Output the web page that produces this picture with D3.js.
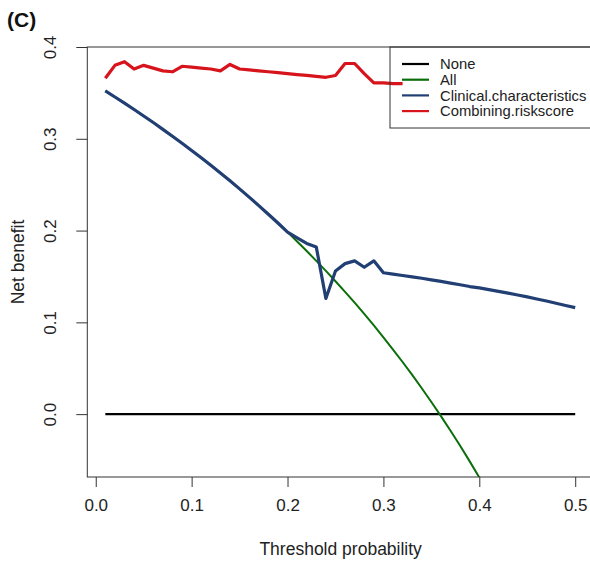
<!doctype html>
<html lang="en">
<head>
<meta charset="utf-8" />
<title>Decision curve</title>
<style>
  body { margin: 0; background: #fff; }
  svg { display: block; font-family: "Liberation Sans", Arial, sans-serif; }
</style>
</head>
<body>
<svg id="chart" width="590" height="564"></svg>
<script src="https://cdn.jsdelivr.net/npm/d3@7"></script>
<script>
// thresholds 0.01 .. 0.50
var thresholds = [0.01,0.02,0.03,0.04,0.05,0.06,0.07,0.08,0.09,0.10,
                  0.11,0.12,0.13,0.14,0.15,0.16,0.17,0.18,0.19,0.20,
                  0.21,0.22,0.23,0.24,0.25,0.26,0.27,0.28,0.29,0.30,
                  0.31,0.32,0.33,0.34,0.35,0.36,0.37,0.38,0.39,0.40,
                  0.41,0.42,0.43,0.44,0.45,0.46,0.47,0.48,0.49,0.50];

// net benefit
var noneNB = [0,0,0,0,0,0,0,0,0,0, 0,0,0,0,0,0,0,0,0,0,
              0,0,0,0,0,0,0,0,0,0, 0,0,0,0,0,0,0,0,0,0,
              0,0,0,0,0,0,0,0,0,0];

var allNB = [0.3521,0.3455,0.3388,0.3319,0.3248,0.3177,0.3103,0.3028,0.2952,0.2873,
             0.2793,0.2711,0.2628,0.2542,0.2454,0.2364,0.2272,0.2178,0.2082,0.1983,
             0.1881,0.1777,0.1670,0.1561,0.1448,0.1332,0.1214,0.1092,0.0966,0.0837,
             0.0704,0.0568,0.0427,0.0282,0.0132,-0.0022,-0.0181,-0.0345,-0.0515,-0.0690];

var clinicalNB = [0.3521,0.3455,0.3388,0.3319,0.3248,0.3177,0.3103,0.3028,0.2952,0.2873,
                  0.2793,0.2711,0.2628,0.2542,0.2454,0.2364,0.2272,0.2178,0.2082,0.1983,
                  0.192,0.186,0.182,0.126,0.156,0.164,0.167,0.160,0.167,0.154,
                  0.1525,0.151,0.1495,0.148,0.1463,0.1446,0.1428,0.141,0.139,0.1375,
                  0.1357,0.1338,0.1318,0.1298,0.1277,0.1255,0.1232,0.1208,0.1184,0.116];

var riskscoreNB = [0.366,0.380,0.384,0.376,0.380,0.377,0.374,0.373,0.379,0.378,
                   0.377,0.376,0.374,0.381,0.376,0.375,0.374,0.373,0.372,0.371,
                   0.370,0.369,0.368,0.367,0.369,0.382,0.382,0.371,0.361,0.361,
                   0.360,0.360];

var seriesNames = ["None", "All", "Clinical.characteristics", "Combining.riskscore"];
var seriesColors = ["#000000", "#0b6e0b", "#223f74", "#d7141c"];
var seriesWidths = [2.4, 2, 3.2, 3.2];
var xTicks = [0, 0.1, 0.2, 0.3, 0.4, 0.5];
var yTicks = [0, 0.1, 0.2, 0.3, 0.4];

var svg = d3.select("#chart");
var box = { left: 87.3, top: 47, right: 594, bottom: 477 };

var x = d3.scaleLinear().domain([-0.0088, 0.5196]).range([box.left, box.right]);
var y = d3.scaleLinear().domain([-0.0685, 0.4]).range([box.bottom, box.top]);

svg.append("defs").append("clipPath").attr("id", "plotclip")
  .append("rect")
  .attr("x", box.left).attr("y", box.top)
  .attr("width", box.right - box.left).attr("height", box.bottom - box.top);

// series lines
var lists = [noneNB, allNB, clinicalNB, riskscoreNB];
var line = d3.line().x(function (d) { return x(d[0]); }).y(function (d) { return y(d[1]); });
var plot = svg.append("g").attr("clip-path", "url(#plotclip)");
lists.forEach(function (vals, i) {
  var pts = vals.map(function (v, j) { return [thresholds[j], v]; });
  plot.append("path")
    .datum(pts)
    .attr("d", line)
    .attr("fill", "none")
    .attr("stroke", seriesColors[i])
    .attr("stroke-width", seriesWidths[i])
    .attr("stroke-linejoin", "round");
});

// box
svg.append("rect")
  .attr("x", box.left).attr("y", box.top)
  .attr("width", box.right - box.left).attr("height", box.bottom - box.top)
  .attr("fill", "none").attr("stroke", "#333").attr("stroke-width", 1);

// x axis
var gx = svg.append("g")
  .attr("transform", "translate(0," + box.bottom + ")")
  .call(d3.axisBottom(x).tickValues(xTicks).tickSize(10).tickPadding(12).tickFormat(d3.format(".1f")));
gx.select(".domain").remove();
gx.selectAll("line").attr("stroke", "#333");
gx.selectAll("text").attr("font-size", 17).attr("fill", "#222").attr("font-family", null);

// y axis
var gy = svg.append("g")
  .attr("transform", "translate(" + box.left + ",0)")
  .call(d3.axisLeft(y).tickValues(yTicks).tickSize(11).tickFormat(d3.format(".1f")));
gy.select(".domain").remove();
gy.selectAll("line").attr("stroke", "#333");
gy.selectAll("text")
  .attr("font-size", 17).attr("fill", "#222").attr("font-family", null)
  .attr("x", 0).attr("y", -31).attr("dy", null)
  .attr("text-anchor", "middle")
  .attr("transform", "rotate(-90)");

// axis titles
svg.append("text")
  .attr("x", (box.left + box.right) / 2).attr("y", 555)
  .attr("text-anchor", "middle").attr("font-size", 17.5).attr("fill", "#222")
  .text("Threshold probability");

svg.append("text")
  .attr("transform", "translate(24," + (box.top + box.bottom) / 2 + ") rotate(-90)")
  .attr("text-anchor", "middle").attr("font-size", 17.5).attr("fill", "#222")
  .text("Net benefit");

// panel tag
svg.append("text")
  .attr("x", 7).attr("y", 27)
  .attr("font-size", 21).attr("font-weight", "bold").attr("fill", "#111")
  .text("(C)");

// legend
var leg = svg.append("g");
leg.append("rect")
  .attr("x", 390).attr("y", box.top)
  .attr("width", 230).attr("height", 81)
  .attr("fill", "none").attr("stroke", "#333").attr("stroke-width", 1);

seriesNames.forEach(function (name, i) {
  var ry = 64 + i * 15.7;
  leg.append("line")
    .attr("x1", 402).attr("x2", 429).attr("y1", ry).attr("y2", ry)
    .attr("stroke", seriesColors[i]).attr("stroke-width", 2.2);
  leg.append("text")
    .attr("x", 440).attr("y", ry).attr("dy", "0.36em")
    .attr("font-size", 14.8).attr("fill", "#222")
    .text(name);
});
</script>
</body>
</html>
